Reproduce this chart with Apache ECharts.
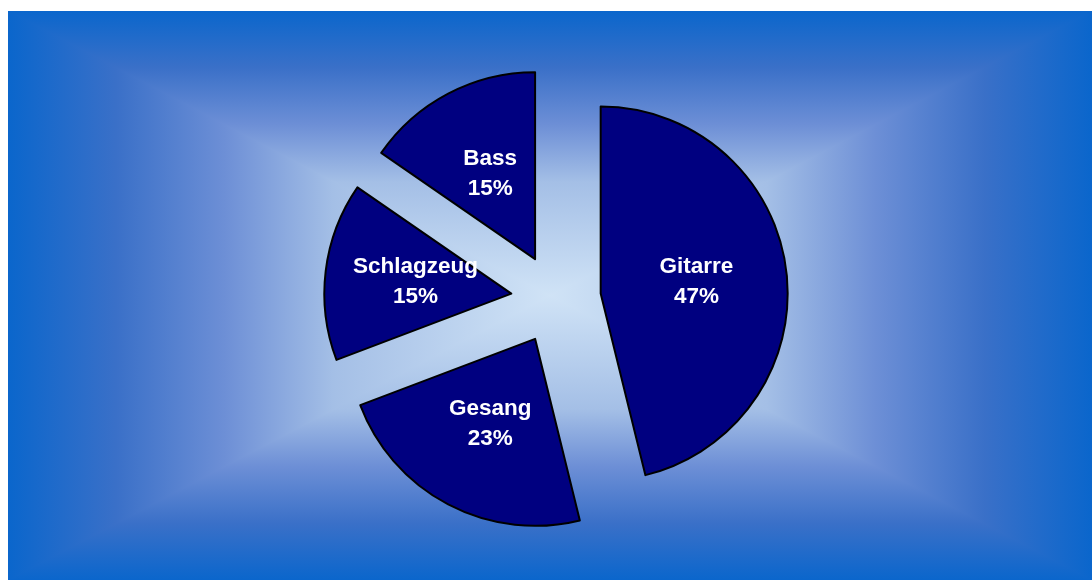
<!DOCTYPE html>
<html>
<head>
<meta charset="utf-8">
<script src="https://cdn.jsdelivr.net/npm/echarts@6/dist/echarts.min.js"></script>
<style>
html,body{margin:0;padding:0;background:#fff;}
#chart{width:1092px;height:580px;}
</style>
</head>
<body>
<div id="chart"></div>
<script>
const categories = ['Gitarre', 'Gesang', 'Schlagzeug', 'Bass'];
const values = [46.2, 23.1, 15.4, 15.4];
const percentLabels = ['47%', '23%', '15%', '15%'];

const chart = echarts.init(document.getElementById('chart'), null, {renderer: 'canvas'});

const L = 8, T = 11, R = 1092, B = 580;
const CX = (L + R) / 2, CY = (T + B) / 2;
const stops = [
  {offset: 0, color: '#0a66cc'},
  {offset: 0.2, color: '#3a70c8'},
  {offset: 0.4, color: '#6d8fd6'},
  {offset: 0.6, color: '#a4bfe6'},
  {offset: 1, color: '#d0e3f6'}
];
function rev(s) { return s.map(o => ({offset: 1 - o.offset, color: o.color})).reverse(); }
function tri(points, x, y, x2, y2, st) {
  const g = new echarts.graphic.LinearGradient(x, y, x2, y2, st);
  return {type: 'polygon', shape: {points: points},
    style: {fill: g, stroke: g, lineWidth: 1.5}, z: -9, silent: true};
}

const bg = [
  {type: 'rect', shape: {x: L, y: T, width: R - L, height: B - T}, style: {fill: '#4f7ccf'}, z: -10, silent: true},
  tri([[L, T], [R, T], [CX, CY]], 0, 0, 0, 1, stops),
  tri([[L, B], [R, B], [CX, CY]], 0, 0, 0, 1, rev(stops)),
  tri([[L, T], [L, B], [CX, CY]], 0, 0, 1, 0, stops),
  tri([[R, T], [R, B], [CX, CY]], 0, 0, 1, 0, rev(stops)),
  {type: 'rect', shape: {x: 0, y: 0, width: R, height: T}, style: {fill: '#ffffff'}, z: -8, silent: true},
  {type: 'rect', shape: {x: 0, y: 0, width: L, height: B}, style: {fill: '#ffffff'}, z: -8, silent: true}
];

chart.setOption({
  animation: false,
  graphic: bg,
  series: [{
    type: 'pie',
    center: [556, 299],
    radius: [0, 187],
    startAngle: 90,
    clockwise: true,
    selectedMode: 'multiple',
    selectedOffset: 45,
    avoidLabelOverlap: false,
    emphasis: {disabled: true},
    itemStyle: {color: '#000080', borderColor: '#000000', borderWidth: 2},
    label: {
      show: true,
      position: 'inside',
      formatter: p => p.name + '\n' + percentLabels[p.dataIndex],
      color: '#ffffff',
      fontFamily: 'Liberation Sans, Arial, sans-serif',
      fontWeight: 'bold',
      fontSize: 22.5,
      lineHeight: 30
    },
    labelLine: {show: false},
    data: categories.map((c, i) => ({name: c, value: values[i], selected: true}))
  }]
});
</script>
</body>
</html>
